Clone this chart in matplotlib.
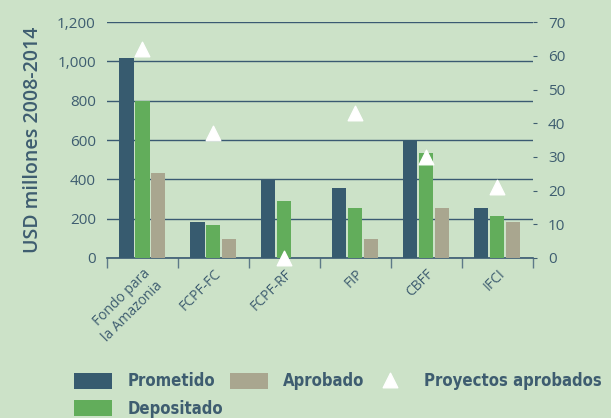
import numpy as np
import matplotlib.pyplot as plt

categories = ['Fondo para\nla Amazonia', 'FCPF-FC', 'FCPF-RF', 'FIP', 'CBFF', 'IFCI']
prometido = [1020, 185, 395, 358, 600, 254]
depositado = [798, 165, 290, 254, 534, 214]
aprobado = [430, 95, 0, 97, 254, 183]
proyectos = [62, 37, 0, 43, 30, 21]

bg = '#cce2c8'
txt = '#3e5d70'
c_prom = '#375b6f'
c_dep = '#62ad5b'
c_apr = '#a9a68f'

plt.rcParams['font.family'] = ['Open Sans', 'DejaVu Sans']

fig = plt.figure(figsize=(6.11, 4.18), dpi=100, facecolor=bg)
ax = fig.add_axes([0.175, 0.383, 0.697, 0.564])
ax.set_facecolor(bg)
ax2 = ax.twinx()

x = np.arange(len(categories))
w = 0.2
off = 0.225
ax.bar(x - off, prometido, w, color=c_prom, label='Prometido', zorder=3)
ax.bar(x, depositado, w, color=c_dep, label='Depositado', zorder=3)
ax.bar(x + off, aprobado, w, color=c_apr, label='Aprobado', zorder=3)
ax2.scatter(x, proyectos, marker='^', s=110, color='white', zorder=5,
            label='Proyectos aprobados', clip_on=False)

ax.set_xlim(-0.5, len(categories) - 0.5)
ax.set_ylim(0, 1200)
ax2.set_ylim(0, 70)
ax.set_yticks(range(0, 1201, 200))
ax.set_yticklabels(['0', '200', '400', '600', '800', '1,000', '1,200'])
ax2.set_yticks(range(0, 71, 10))

ax.grid(axis='y', color='#3a5a72', linewidth=1.0, zorder=0)
ax.set_axisbelow(True)

for a in (ax, ax2):
    for s in ('left', 'right', 'top'):
        a.spines[s].set_visible(False)
ax.spines['bottom'].set_color('#3a5a72')
ax.spines['bottom'].set_linewidth(1.2)
ax2.spines['bottom'].set_visible(False)

# group separators as major ticks, names as minor tick labels
ax.set_xticks(np.arange(-0.5, len(categories), 1.0))
ax.set_xticklabels([])
ax.tick_params(axis='x', direction='out', length=7, color='#5d7a88', width=1)
ax.set_xticks(x, minor=True)
ax.set_xticklabels(categories, minor=True, rotation=45, ha='right',
                   rotation_mode='anchor', fontsize=10, color=txt)
ax.tick_params(axis='x', which='minor', length=0, pad=6)

ax.tick_params(axis='y', length=0, labelsize=11, labelcolor=txt, pad=8)
ax2.tick_params(axis='y', length=3, color=txt, labelsize=11, labelcolor=txt, pad=8)

ax.set_ylabel('USD millones 2008-2014', fontsize=14, color=txt,
              fontweight='semibold', labelpad=10)

h1, l1 = ax.get_legend_handles_labels()
h2, l2 = ax2.get_legend_handles_labels()
handles = [h1[0], h1[1], h1[2], h2[0]]
labels = [l1[0], l1[1], l1[2], l2[0]]
leg = fig.legend(handles, labels, ncol=3, loc='upper left',
                 bbox_to_anchor=(0.11, 0.125), frameon=False,
                 prop={'family': 'DejaVu Sans', 'stretch': 'condensed',
                       'weight': 'bold', 'size': 12},
                 handlelength=2.3, handleheight=1.1, columnspacing=0.4,
                 handletextpad=0.9, labelspacing=0.55, borderaxespad=0)
for t in leg.get_texts():
    t.set_color(txt)

fig.savefig('out.png', dpi=100, facecolor=bg)
